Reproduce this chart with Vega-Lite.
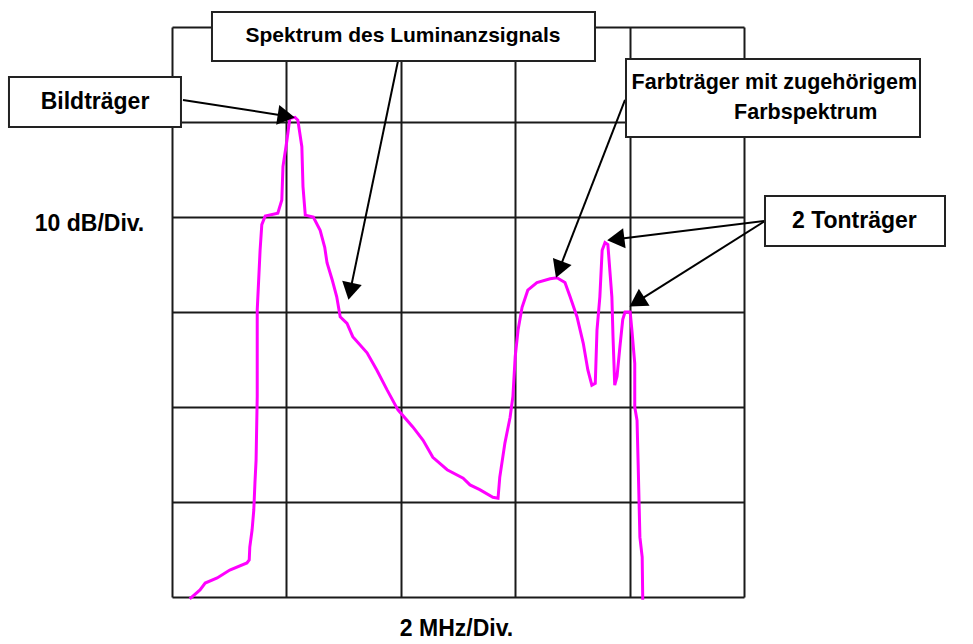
{
  "$schema": "https://vega.github.io/schema/vega-lite/v6.json",
  "width": 572,
  "height": 570,
  "autosize": "none",
  "padding": {"left": 172, "top": 27, "right": 229, "bottom": 47},
  "background": "white",
  "config": {"view": {"stroke": null}},
  "datasets": {
    "spectrum": [
      {"f": 0.31, "L": -0.2}, {"f": 0.49, "L": 0.74}, {"f": 0.58, "L": 1.47}, {"f": 0.79, "L": 2.0},
      {"f": 1.01, "L": 2.84}, {"f": 1.31, "L": 3.58}, {"f": 1.35, "L": 3.89}, {"f": 1.36, "L": 5.26},
      {"f": 1.40, "L": 7.05}, {"f": 1.43, "L": 9.16}, {"f": 1.45, "L": 12.0}, {"f": 1.47, "L": 14.4},
      {"f": 1.49, "L": 21.1}, {"f": 1.49, "L": 30.2}, {"f": 1.54, "L": 36.5}, {"f": 1.57, "L": 39.2},
      {"f": 1.63, "L": 40.1}, {"f": 1.85, "L": 40.4}, {"f": 1.92, "L": 41.8}, {"f": 1.94, "L": 45.3},
      {"f": 2.01, "L": 48.1}, {"f": 2.06, "L": 50.4}, {"f": 2.15, "L": 50.5}, {"f": 2.20, "L": 50.2},
      {"f": 2.27, "L": 47.4}, {"f": 2.29, "L": 43.2}, {"f": 2.33, "L": 40.2}, {"f": 2.47, "L": 40.0},
      {"f": 2.59, "L": 38.6}, {"f": 2.67, "L": 36.8}, {"f": 2.71, "L": 35.2}, {"f": 2.80, "L": 33.4},
      {"f": 2.88, "L": 31.6}, {"f": 2.94, "L": 29.5}, {"f": 3.06, "L": 28.8}, {"f": 3.16, "L": 27.4},
      {"f": 3.41, "L": 25.7}, {"f": 3.58, "L": 23.9}, {"f": 3.76, "L": 21.8}, {"f": 3.95, "L": 19.7},
      {"f": 4.21, "L": 17.9}, {"f": 4.39, "L": 16.5}, {"f": 4.56, "L": 14.7}, {"f": 4.81, "L": 13.4},
      {"f": 5.09, "L": 12.5}, {"f": 5.21, "L": 11.8}, {"f": 5.38, "L": 11.3}, {"f": 5.61, "L": 10.5},
      {"f": 5.70, "L": 10.4}, {"f": 5.73, "L": 12.6}, {"f": 5.82, "L": 16.2}, {"f": 5.91, "L": 18.9},
      {"f": 5.96, "L": 21.1}, {"f": 6.00, "L": 25.3}, {"f": 6.05, "L": 28.1}, {"f": 6.12, "L": 30.5},
      {"f": 6.22, "L": 32.3}, {"f": 6.38, "L": 33.1}, {"f": 6.61, "L": 33.5}, {"f": 6.73, "L": 33.6},
      {"f": 6.87, "L": 33.1}, {"f": 6.96, "L": 31.6}, {"f": 7.08, "L": 29.5}, {"f": 7.19, "L": 26.7},
      {"f": 7.27, "L": 23.9}, {"f": 7.34, "L": 22.3}, {"f": 7.40, "L": 22.5}, {"f": 7.43, "L": 28.1},
      {"f": 7.48, "L": 31.6}, {"f": 7.52, "L": 36.5}, {"f": 7.57, "L": 37.3}, {"f": 7.62, "L": 37.1},
      {"f": 7.69, "L": 31.6}, {"f": 7.71, "L": 27.4}, {"f": 7.74, "L": 22.3}, {"f": 7.78, "L": 23.2},
      {"f": 7.83, "L": 26.3}, {"f": 7.88, "L": 29.2}, {"f": 7.92, "L": 30.0}, {"f": 8.01, "L": 30.0},
      {"f": 8.04, "L": 28.1}, {"f": 8.09, "L": 24.6}, {"f": 8.09, "L": 20.0}, {"f": 8.13, "L": 18.6},
      {"f": 8.15, "L": 13.9}, {"f": 8.18, "L": 6.3}, {"f": 8.22, "L": 4.2}, {"f": 8.23, "L": -0.3}
    ],
    "arrows": [
      {"name": "Bildträger", "f": 0.192, "L": 52.32, "f2": 2.098, "L2": 50.53},
      {"name": "Luminanz", "f": 3.951, "L": 56.42, "f2": 3.094, "L2": 31.58},
      {"name": "Farbträger", "f": 7.920, "L": 52.32, "f2": 6.731, "L2": 33.89},
      {"name": "Tonträger 1", "f": 10.367, "L": 39.58, "f2": 7.657, "L2": 37.58},
      {"name": "Tonträger 2", "f": 10.367, "L": 39.58, "f2": 8.042, "L2": 30.74}
    ],
    "heads": [
      {"name": "Bildträger", "f": 1.948, "L": 50.66, "angle": 98.9},
      {"name": "Luminanz", "f": 3.126, "L": 32.47, "angle": 191.7},
      {"name": "Farbträger", "f": 6.786, "L": 34.75, "angle": 201.2},
      {"name": "Tonträger 1", "f": 7.808, "L": 37.69, "angle": 263.0},
      {"name": "Tonträger 2", "f": 8.170, "L": 31.22, "angle": 237.7}
    ],
    "boxes": [
      {"name": "Bildträger", "f": -2.850, "f2": 0.157, "L": 54.74, "L2": 49.47},
      {"name": "Luminanz", "f": 0.699, "f2": 7.395, "L": 61.58, "L2": 56.42},
      {"name": "Farbträger", "f": 7.937, "f2": 13.077, "L": 56.63, "L2": 48.42},
      {"name": "Tonträger", "f": 10.367, "f2": 13.514, "L": 42.21, "L2": 36.95}
    ],
    "labels": [
      {"name": "Bildträger", "f": -1.346, "L": 52.11, "text": "Bildträger"},
      {"name": "Luminanz", "f": 4.038, "L": 59.05, "text": "Spektrum des Luminanzsignals"},
      {"name": "Farbträger 1", "f": 10.53, "L": 54.1, "text": "Farbträger mit zugehörigem"},
      {"name": "Farbträger 2", "f": 11.08, "L": 50.9, "text": "Farbspektrum"},
      {"name": "Tonträger", "f": 11.93, "L": 39.58, "text": "2 Tonträger"}
    ]
  },
  "encoding": {
    "x": {
      "field": "f", "type": "quantitative",
      "scale": {"domain": [0, 10], "nice": false, "zero": false},
      "axis": {
        "title": "2 MHz/Div.", "values": [0, 2, 4, 6, 8, 10],
        "grid": true, "gridColor": "#1a1a1a", "gridWidth": 2, "gridOpacity": 1,
        "labels": false, "ticks": false, "domain": false,
        "titleFont": "Liberation Sans", "titleFontWeight": "bold", "titleFontSize": 23, "titleColor": "black",
        "titleX": 284, "titleY": 31, "titleBaseline": "middle", "titleAlign": "center"
      }
    },
    "y": {
      "field": "L", "type": "quantitative",
      "scale": {"domain": [0, 60], "nice": false, "zero": false},
      "axis": {
        "title": "10 dB/Div.", "values": [0, 10, 20, 30, 40, 50, 60],
        "grid": true, "gridColor": "#1a1a1a", "gridWidth": 2, "gridOpacity": 1,
        "labels": false, "ticks": false, "domain": false,
        "titleFont": "Liberation Sans", "titleFontWeight": "bold", "titleFontSize": 23, "titleColor": "black",
        "titleAngle": 0, "titleX": -83, "titleY": 196, "titleBaseline": "middle", "titleAlign": "center"
      }
    }
  },
  "layer": [
    {
      "data": {"name": "spectrum"},
      "mark": {"type": "line", "color": "#ff00ff", "strokeWidth": 3, "clip": false},
      "encoding": {"order": {"value": null}}
    },
    {
      "data": {"name": "arrows"},
      "mark": {"type": "rule", "color": "black", "strokeWidth": 2},
      "encoding": {
        "x2": {"field": "f2"},
        "y2": {"field": "L2"}
      }
    },
    {
      "data": {"name": "heads"},
      "mark": {"type": "point", "shape": "triangle", "filled": true, "color": "black", "size": 400, "opacity": 1},
      "encoding": {"angle": {"field": "angle", "type": "quantitative", "scale": null}}
    },
    {
      "data": {"name": "boxes"},
      "mark": {"type": "rect", "fill": "white", "stroke": "#222", "strokeWidth": 2},
      "encoding": {
        "x2": {"field": "f2"},
        "y2": {"field": "L2"}
      }
    },
    {
      "data": {"name": "labels"},
      "transform": [{"filter": "datum.name === 'Bildträger' || datum.name === 'Tonträger'"}],
      "mark": {"type": "text", "font": "Liberation Sans", "fontWeight": "bold", "fontSize": 23, "color": "black", "align": "center", "baseline": "middle"},
      "encoding": {"text": {"field": "text"}}
    },
    {
      "data": {"name": "labels"},
      "transform": [{"filter": "datum.name === 'Luminanz'"}],
      "mark": {"type": "text", "font": "Liberation Sans", "fontWeight": "bold", "fontSize": 21, "color": "black", "align": "center", "baseline": "middle"},
      "encoding": {"text": {"field": "text"}}
    },
    {
      "data": {"name": "labels"},
      "transform": [{"filter": "datum.name === 'Farbträger 1' || datum.name === 'Farbträger 2'"}],
      "mark": {"type": "text", "font": "Liberation Sans", "fontWeight": "bold", "fontSize": 21.5, "color": "black", "align": "center", "baseline": "middle"},
      "encoding": {"text": {"field": "text"}}
    }
  ]
}
